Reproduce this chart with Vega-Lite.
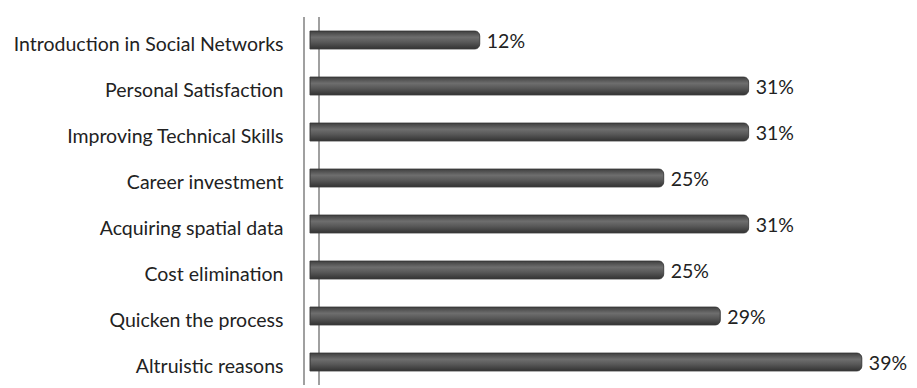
{
  "$schema": "https://vega.github.io/schema/vega-lite/v6.json",
  "width": 572,
  "height": 368,
  "autosize": {"type": "none"},
  "padding": {"left": 304, "top": 17, "right": 41, "bottom": 3},
  "background": "white",
  "config": {"view": {"stroke": null}},
  "data": {
    "values": [
      {"reason": "Introduction in Social Networks", "pct": 12},
      {"reason": "Personal Satisfaction", "pct": 31},
      {"reason": "Improving Technical Skills", "pct": 31},
      {"reason": "Career investment", "pct": 25},
      {"reason": "Acquiring spatial data", "pct": 31},
      {"reason": "Cost elimination", "pct": 25},
      {"reason": "Quicken the process", "pct": 29},
      {"reason": "Altruistic reasons", "pct": 39}
    ]
  },
  "transform": [{"calculate": "datum.pct + '%'", "as": "label"}],
  "encoding": {
    "y": {
      "field": "reason", "type": "nominal", "sort": null,
      "axis": {"title": null, "domain": false, "ticks": false, "labelFont": "Lato", "labelFontSize": 19.5, "labelColor": "#222", "labelPadding": 21, "labelLimit": 400, "labelOffset": 5}
    },
    "x": {
      "field": "pct", "type": "quantitative",
      "scale": {"domain": [-0.42, 40], "nice": false},
      "axis": null
    }
  },
  "layer": [
    {
      "mark": {"type": "rule", "color": "#a0a0a0", "strokeWidth": 1.5},
      "encoding": {"x": {"datum": -0.42}, "y": null}
    },
    {
      "mark": {"type": "rule", "color": "#a0a0a0", "strokeWidth": 1.5},
      "encoding": {"x": {"datum": 0.64}, "y": null}
    },
    {
      "mark": {
        "type": "bar", "size": 18, "cornerRadiusEnd": 5,
        "stroke": "#3a3a3a", "strokeWidth": 0.8,
        "color": {"gradient": "linear", "x1": 0, "y1": 0, "x2": 0, "y2": 1,
          "stops": [{"offset": 0, "color": "#3f3f3f"}, {"offset": 0.35, "color": "#6e6e6e"}, {"offset": 0.6, "color": "#5a5a5a"}, {"offset": 1, "color": "#333333"}]}
      }
    },
    {
      "mark": {"type": "text", "align": "left", "dx": 7, "dy": 2, "font": "Lato", "fontSize": 19.5, "color": "#222"},
      "encoding": {"text": {"field": "label", "type": "nominal"}}
    }
  ]
}
